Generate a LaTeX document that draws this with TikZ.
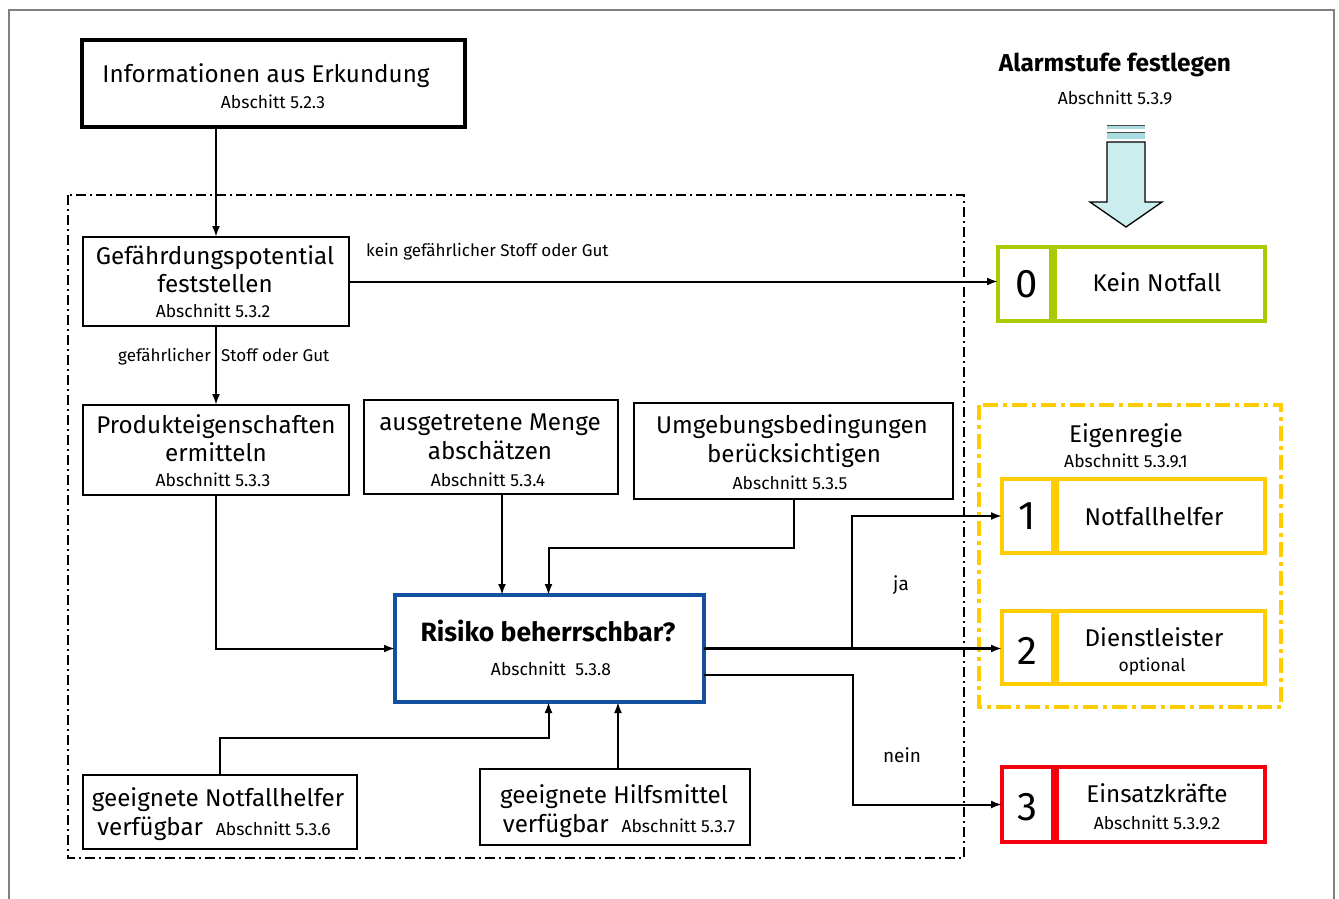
\documentclass[tikz,border=0pt]{standalone}
\usepackage{fontspec}
\setmainfont{Fira Sans}
\usetikzlibrary{arrows.meta,calc}
\definecolor{cgreen}{RGB}{168,204,0}
\definecolor{cyellow}{RGB}{255,204,0}
\definecolor{cred}{RGB}{245,0,15}
\definecolor{cblue}{RGB}{20,80,160}
\definecolor{cfill}{RGB}{204,237,238}
\definecolor{cstripe}{RGB}{168,220,224}
\newcommand{\fmain}{\fontsize{24.2}{28}\selectfont}
\newcommand{\fsmall}{\fontsize{17.5}{20}\selectfont}
\newcommand{\flab}{\fontsize{17}{20}\selectfont}
\newcommand{\fnum}{\fontsize{40}{44}\selectfont}
\begin{document}
\begin{tikzpicture}[x=1pt,y=-1pt,
  box/.style={draw, line width=2.2pt, inner sep=0pt, outer sep=0pt},
  cbox/.style={draw, line width=3.3pt, inner sep=0pt, outer sep=0pt, fill=white},
  txt/.style={inner sep=0pt, anchor=base},
  arr/.style={line width=2pt, -{Latex[length=11pt,width=8pt]}},
  con/.style={line width=2pt}]
\useasboundingbox (0,0) rectangle (1339,899);
\draw[gray, line width=1.5pt] (9,10) rectangle (1334,912);
% dash-dot frame
\draw[line width=1.3pt, dash pattern=on 10pt off 4pt on 2pt off 4pt] (68,195) rectangle (964,858);
% yellow frame
\draw[cyellow, line width=3.5pt, dash pattern=on 15pt off 5pt on 4pt off 5pt] (979,405) rectangle (1281,707);
% boxes
\node[box, line width=4.5pt, minimum width=383pt, minimum height=87pt] (info) at (273.5,83.5) {};
\node[txt] (infot) at (266,83) {\fmain Informationen aus Erkundung};
\node[txt] (infos) at (273,108) {\fsmall Abschitt 5.2.3};

\node[box, minimum width=266pt, minimum height=89pt] (gef) at (216,281.5) {};
\node[txt] (geft1) at (215,264) {\fmain Gefährdungspotential};
\node[txt] (geft2) at (215,292) {\fmain feststellen};
\node[txt] (gefs) at (213,317) {\fsmall Abschnitt 5.3.2};

\node[box, minimum width=266pt, minimum height=90pt] (prod) at (216,450) {};
\node[txt] (prodt1) at (216,433) {\fmain Produkteigenschaften};
\node[txt] (prodt2) at (216,461) {\fmain ermitteln};
\node[txt] (prods) at (213,486) {\fsmall Abschnitt 5.3.3};

\node[box, minimum width=254pt, minimum height=94pt] (aus) at (491,447) {};
\node[txt] (aust1) at (490,430) {\fmain ausgetretene Menge};
\node[txt] (aust2) at (490,459) {\fmain abschätzen};
\node[txt] (auss) at (488,486) {\fsmall Abschnitt 5.3.4};

\node[box, minimum width=319pt, minimum height=96pt] (umg) at (793.5,451) {};
\node[txt] (umgt1) at (792,433) {\fmain Umgebungsbedingungen};
\node[txt] (umgt2) at (794,462) {\fmain berücksichtigen};
\node[txt] (umgs) at (790,489) {\fsmall Abschnitt 5.3.5};

\node[draw=cblue, line width=4pt, inner sep=0pt, outer sep=0pt, minimum width=309pt, minimum height=107pt] (risk) at (549.5,648.5) {};
\node[txt] (riskt) at (548,641) {\fontsize{26.5}{30}\selectfont\bfseries Risiko beherrschbar?};
\node[txt] (risks) at (551,675) {\fsmall Abschnitt\ \ 5.3.8};

\node[box, minimum width=274pt, minimum height=74pt] (nh) at (220,812) {};
\node[txt] (nht1) at (218,806) {\fmain geeignete Notfallhelfer};
\node[txt] (nht2) at (214,835) {\fmain verfügbar\ \ {\fsmall Abschnitt 5.3.6}};

\node[box, minimum width=270pt, minimum height=76pt] (hm) at (615,807) {};
\node[txt] (hmt1) at (614,803) {\fmain geeignete Hilfsmittel};
\node[txt] (hmt2) at (619,832) {\fmain verfügbar\ \ {\fsmall Abschnitt 5.3.7}};

% alarm stages
\node[txt] (alarm) at (1115,71) {\fontsize{24.4}{28}\selectfont\bfseries Alarmstufe festlegen};
\node[txt] (alarms) at (1115,104) {\fsmall Abschnitt 5.3.9};
\fill[cstripe] (1107,125) rectangle (1145,129);
\draw[black!70, line width=0.8pt] (1107,125) -- (1145,125);
\fill[cstripe] (1107,132) rectangle (1145,139);
\draw[black!70, line width=0.8pt] (1107,132) -- (1145,132);
\draw[fill=cfill, line width=1.3pt, line join=miter] (1107,142) -- (1145,142) -- (1145,202) -- (1162,202) -- (1126,227) -- (1090,202) -- (1107,202) -- cycle;

\node[cbox, draw=cgreen, minimum width=53pt, minimum height=74pt] (b0n) at (1024.5,284) {};
\node[cbox, draw=cgreen, minimum width=210pt, minimum height=74pt] (b0) at (1160,284) {};
\node[inner sep=0pt] (b0d) at ([xshift=2pt]b0n) {\fnum 0};
\node[txt] (b0t) at (1157,291) {\fmain Kein Notfall};

\node[txt] (eig) at (1126,442) {\fmain Eigenregie};
\node[txt] (eigs) at (1126,467) {\fsmall Abschnitt 5.3.9.1};

\node[cbox, draw=cyellow, minimum width=51pt, minimum height=74pt] (b1n) at (1027.5,516) {};
\node[cbox, draw=cyellow, minimum width=208pt, minimum height=74pt] (b1) at (1161,516) {};
\node[inner sep=0pt] (b1d) at (b1n) {\fnum 1};
\node[txt] (b1t) at (1154,525) {\fmain Notfallhelfer};

\node[cbox, draw=cyellow, minimum width=51pt, minimum height=73pt] (b2n) at (1027.5,647.5) {};
\node[cbox, draw=cyellow, minimum width=208pt, minimum height=73pt] (b2) at (1161,647.5) {};
\node[inner sep=0pt] (b2d) at ([yshift=-3pt]b2n) {\fnum 2};
\node[txt] (b2t) at (1154,646) {\fmain Dienstleister};
\node[txt] (b2s) at (1152,671) {\fsmall optional};

\node[cbox, draw=cred, minimum width=51pt, minimum height=75pt] (b3n) at (1027.5,804.5) {};
\node[cbox, draw=cred, minimum width=208pt, minimum height=75pt] (b3) at (1161,804.5) {};
\node[inner sep=0pt] (b3d) at ([yshift=-3pt]b3n) {\fnum 3};
\node[txt] (b3t) at (1157,802) {\fmain Einsatzkräfte};
\node[txt] (b3s) at (1157,829) {\fsmall Abschnitt 5.3.9.2};

% labels
\node[txt, anchor=base west] (lkein) at (366,256) {\flab kein gefährlicher Stoff oder Gut};
\node[txt, anchor=base east] (lgef1) at (211,361) {\flab gefährlicher};
\node[txt, anchor=base west] (lgef2) at (221,361) {\flab Stoff oder Gut};
\node[inner sep=0pt] (lja) at (901,585) {\fontsize{19}{22}\selectfont ja};
\node[inner sep=0pt] (lnein) at (902,755) {\fontsize{19}{22}\selectfont nein};

% connectors
\draw[arr] (info.south -| gef.north) -- (gef.north);
\draw[arr] (gef.east) -- (gef.east -| b0n.west);
\draw[arr] (gef.south) -- (prod.north);
\draw[arr] (prod.south) |- (risk.west);
\draw[arr] ([xshift=11pt]aus.south) -- ([xshift=11pt]aus.south |- risk.north);
\draw[arr] (umg.south) -- ++(0,49) -| ([xshift=-1pt]risk.north);
\draw[arr] (nh.north) -- ++(0,-37) -| ([xshift=-1pt]risk.south);
\draw[arr] ([xshift=3pt]hm.north) -- ([xshift=3pt]hm.north |- risk.south);
\coordinate (jn) at (852,648.5);
\draw[arr, line width=3pt] (risk.east) -- (risk.east -| b2n.west);
\draw[arr] (jn) |- (b1n.west);
\draw[arr] ([yshift=-26pt]risk.east) -- ++(149,0) |- (b3n.west);
\end{tikzpicture}
\end{document}
